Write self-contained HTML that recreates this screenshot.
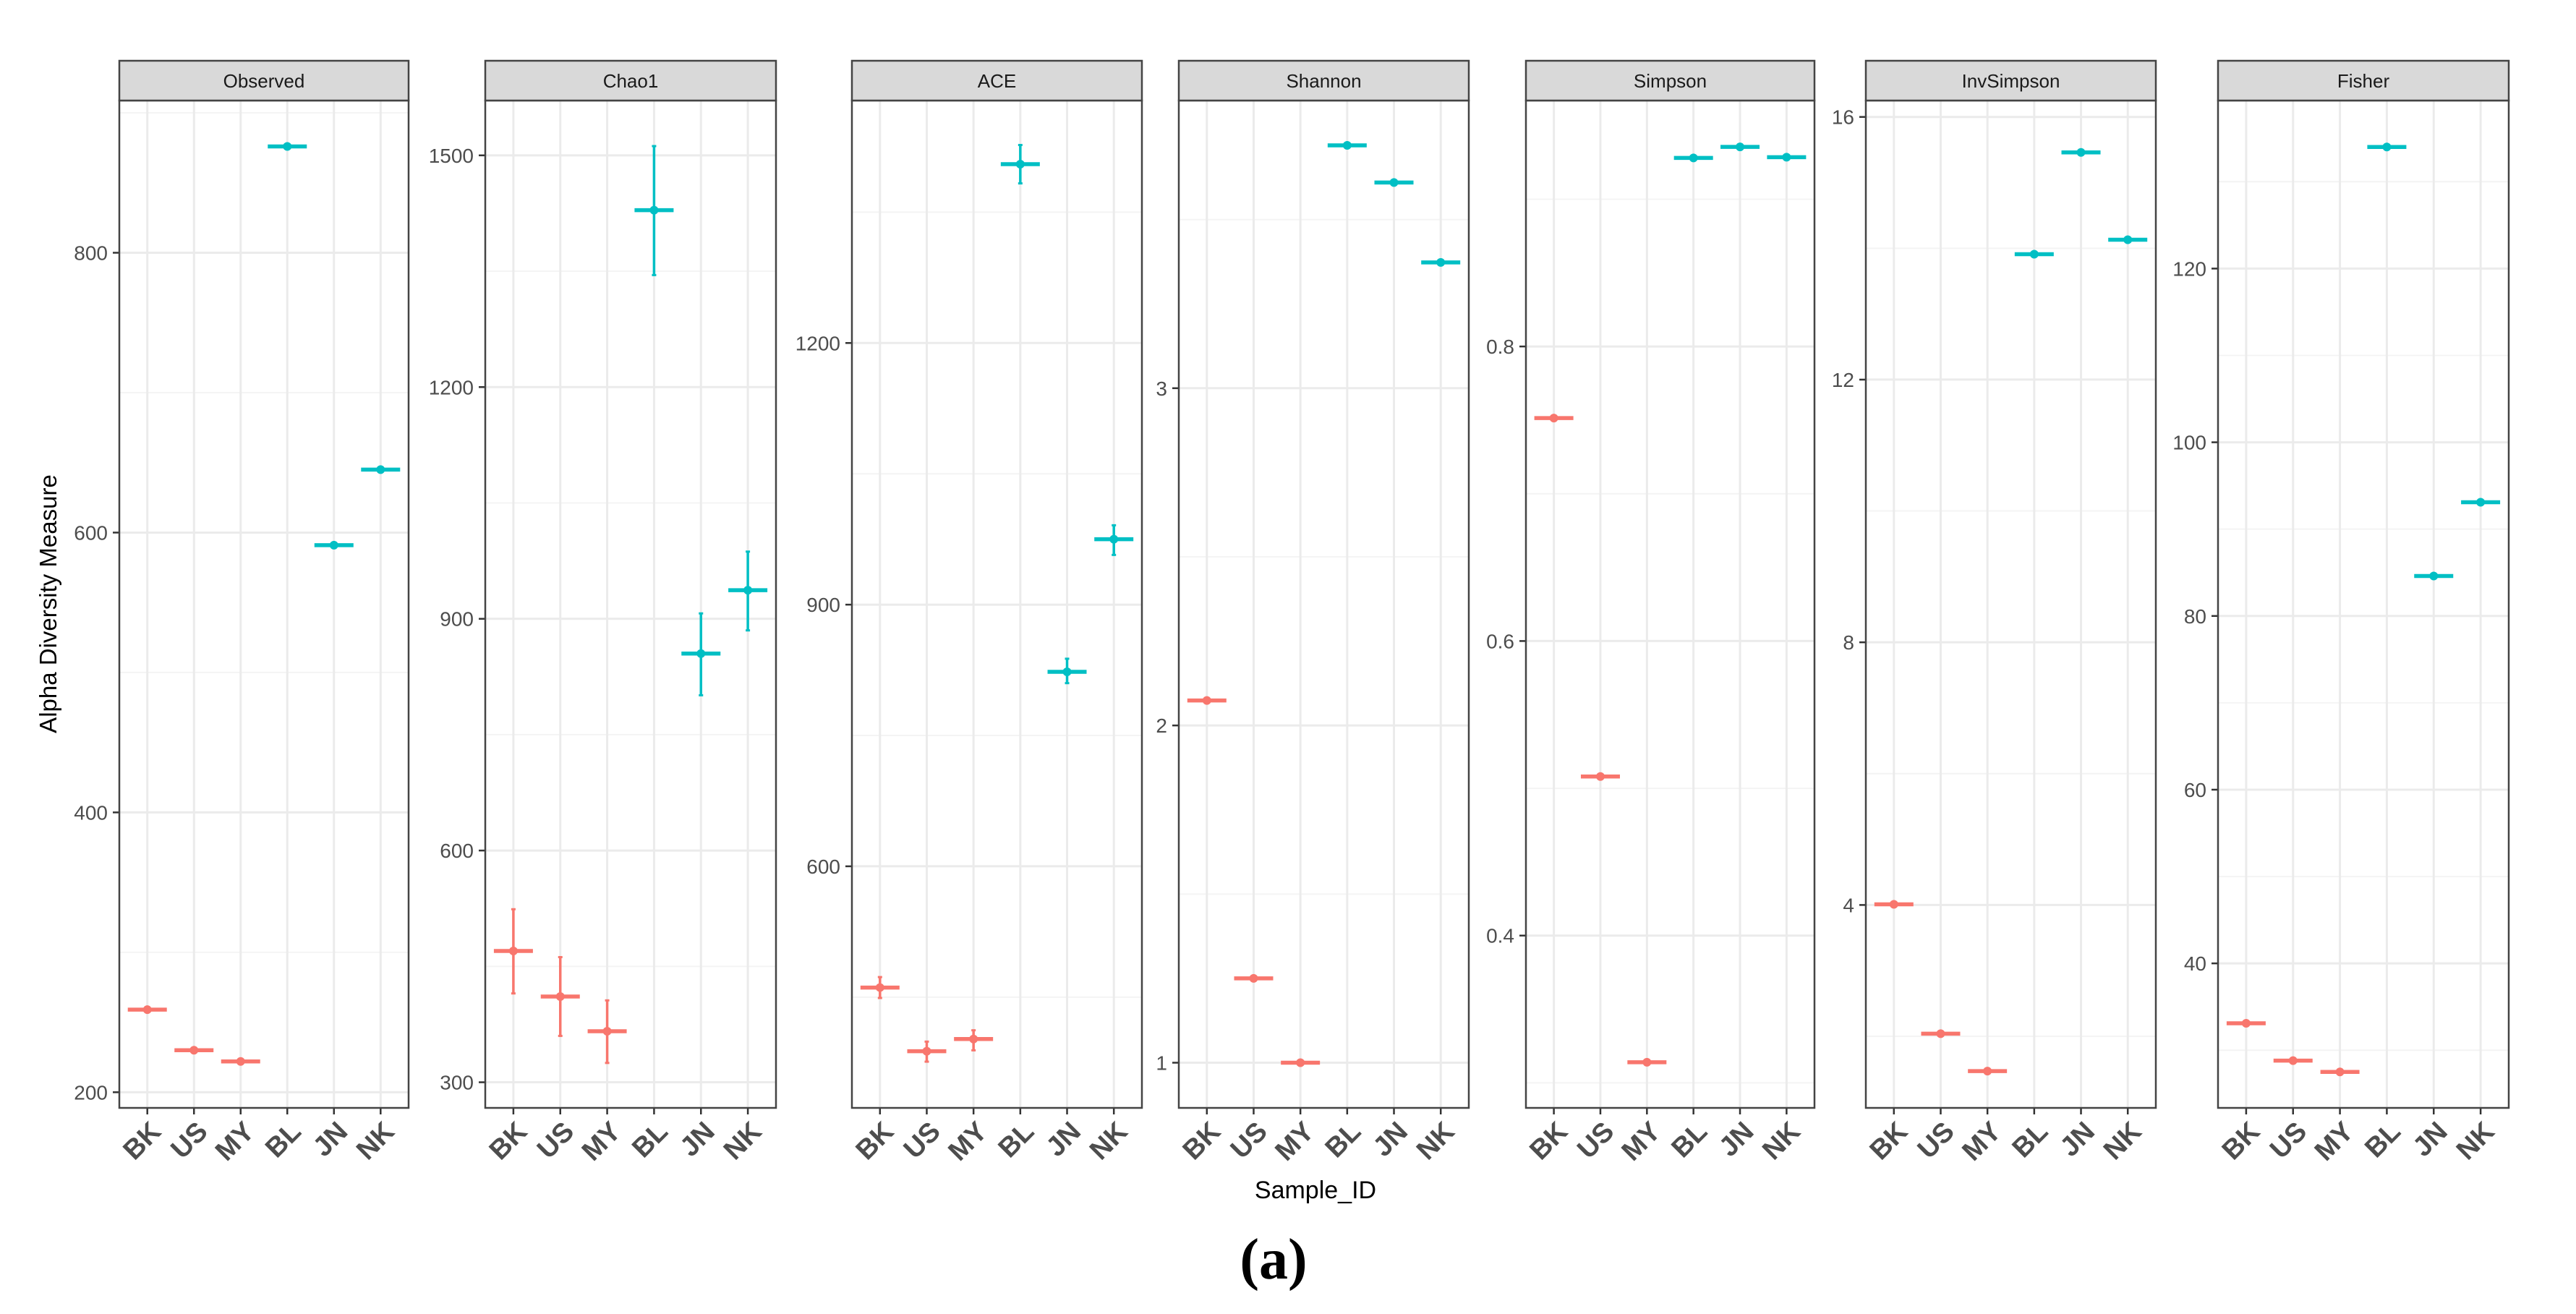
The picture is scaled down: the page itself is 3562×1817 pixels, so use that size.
<!DOCTYPE html>
<html><head><meta charset="utf-8"><style>
html,body{margin:0;padding:0;background:#fff;}
svg{display:block;font-family:"Liberation Sans",sans-serif;}
</style></head><body>
<svg id="chart" width="3562" height="1817" viewBox="0 0 3562 1817" xmlns="http://www.w3.org/2000/svg">
<text x="0" y="0" transform="translate(78,835) rotate(-90)" text-anchor="middle" font-size="33" fill="#000">Alpha Diversity Measure</text>
<text x="1819" y="1657" text-anchor="middle" font-size="34" fill="#000">Sample_ID</text>
<text x="1761" y="1768" text-anchor="middle" font-size="80" font-weight="bold" font-family="'Liberation Serif',serif" fill="#000">(a)</text>
</svg>
<script>
const categories = ["BK","US","MY","BL","JN","NK"];
const groups = ["A","A","A","B","B","B"];
const panelTitles = ["Observed","Chao1","ACE","Shannon","Simpson","InvSimpson","Fisher"];
const observedMean = [259,230,222,876,591,645];
const observedLo = [259,230,222,876,591,645];
const observedHi = [259,230,222,876,591,645];
const chao1Mean = [470,411,366,1429,855,937];
const chao1Lo = [415,360,325,1345,801,885];
const chao1Hi = [524,462,406,1512,907,987];
const aceMean = [461,388,402,1405,823,975];
const aceLo = [449,376,389,1383,810,957];
const aceHi = [473,399,412,1427,838,991];
const shannonMean = [2.074,1.25,1.0,3.72,3.61,3.373];
const simpsonMean = [0.7514,0.508,0.314,0.928,0.9355,0.9285];
const invSimpsonMean = [4.01,2.04,1.47,13.91,15.46,14.13];
const fisherMean = [33.1,28.8,27.5,134.0,84.6,93.1];
const observedTicks = [200,400,600,800];
const chao1Ticks = [300,600,900,1200,1500];
const aceTicks = [600,900,1200];
const shannonTicks = [1,2,3];
const simpsonTicks = [0.4,0.6,0.8];
const invSimpsonTicks = [4,8,12,16];
const fisherTicks = [40,60,80,100,120];
const observedDomain = [188.8,908.8];
const chao1Domain = [266.8,1571];
const aceDomain = [323,1478];
const shannonDomain = [0.866,3.853];
const simpsonDomain = [0.283,0.967];
const invSimpsonDomain = [0.91,16.25];
const fisherDomain = [23.36,139.35];

const panels = [
 {mean:observedMean,lo:observedLo,hi:observedHi,ticks:observedTicks,dom:observedDomain,x0:165,x1:565},
 {mean:chao1Mean,lo:chao1Lo,hi:chao1Hi,ticks:chao1Ticks,dom:chao1Domain,x0:671,x1:1073},
 {mean:aceMean,lo:aceLo,hi:aceHi,ticks:aceTicks,dom:aceDomain,x0:1178,x1:1579},
 {mean:shannonMean,lo:shannonMean,hi:shannonMean,ticks:shannonTicks,dom:shannonDomain,x0:1630,x1:2031},
 {mean:simpsonMean,lo:simpsonMean,hi:simpsonMean,ticks:simpsonTicks,dom:simpsonDomain,x0:2110,x1:2509},
 {mean:invSimpsonMean,lo:invSimpsonMean,hi:invSimpsonMean,ticks:invSimpsonTicks,dom:invSimpsonDomain,x0:2580,x1:2981},
 {mean:fisherMean,lo:fisherMean,hi:fisherMean,ticks:fisherTicks,dom:fisherDomain,x0:3067,x1:3469}
];
const NS="http://www.w3.org/2000/svg";
const svg=document.getElementById('chart');
const TOP=139,BOT=1532,STRIP=84;
const colors={A:"#F8766D",B:"#00BFC4"};
function mk(tag,attrs,parent){const e=document.createElementNS(NS,tag);for(const k in attrs)e.setAttribute(k,attrs[k]);(parent||svg).appendChild(e);return e;}
function fmt(v){return String(Math.round(v*100)/100);}
panels.forEach((p,pi)=>{
 const g=mk('g',{});
 
 
 const n=categories.length;
 const xs=i=>p.x0+(p.x1-p.x0)*((i+1)-0.4)/(n+0.2);
 const ys=v=>BOT-(v-p.dom[0])/(p.dom[1]-p.dom[0])*(BOT-TOP);
 const step=p.ticks.length>1?p.ticks[1]-p.ticks[0]:1;
 for(let t=p.ticks[0]-step*0.5;t<=p.dom[1];t+=step){
  if(t<p.dom[0])continue;
  const l=mk('line',{x1:p.x0,x2:p.x1,y1:ys(t),y2:ys(t),stroke:"#F4F4F4","stroke-width":2},g);
  
  
 }
 p.ticks.forEach(t=>{
  const y=ys(t);
  const l=mk('line',{x1:p.x0,x2:p.x1,y1:y,y2:y,stroke:"#EBEBEB","stroke-width":3},g);
  
  
  const tk=mk('line',{x1:p.x0-9,x2:p.x0,y1:y,y2:y,stroke:"#333","stroke-width":2.5},g);
  
  
  const tx=mk('text',{x:p.x0-16,y:y+10,"text-anchor":"end","font-size":28,fill:"#4D4D4D"},g);
  tx.textContent=fmt(t);
  
  
 });
 categories.forEach((c,i)=>{
  const x=xs(i);
  const l=mk('line',{x1:x,x2:x,y1:TOP,y2:BOT,stroke:"#EBEBEB","stroke-width":3},g);
  
  
  const tk=mk('line',{x1:x,x2:x,y1:BOT,y2:BOT+9,stroke:"#333","stroke-width":2.5},g);
  
  
  const tx=mk('text',{x:0,y:0,transform:`translate(${x+21},${BOT+35}) rotate(-45)`,"text-anchor":"end","font-size":38,"font-weight":"bold",fill:"#4D4D4D"},g);
  tx.textContent=c;
  
  
 });
 categories.forEach((c,i)=>{
  const x=xs(i),col=colors[groups[i]];
  const m=mk('g',{},g);
  
  
  mk('line',{x1:x,x2:x,y1:ys(p.lo[i]),y2:ys(p.hi[i]),stroke:col,"stroke-width":3.5},m);
  mk('line',{x1:x-3,x2:x+3,y1:ys(p.lo[i]),y2:ys(p.lo[i]),stroke:col,"stroke-width":3},m);
  mk('line',{x1:x-3,x2:x+3,y1:ys(p.hi[i]),y2:ys(p.hi[i]),stroke:col,"stroke-width":3},m);
  mk('line',{x1:x-27,x2:x+27,y1:ys(p.mean[i]),y2:ys(p.mean[i]),stroke:col,"stroke-width":5.5},m);
  mk('circle',{cx:x,cy:ys(p.mean[i]),r:6,fill:col},m);
 });
 const b=mk('rect',{x:p.x0,y:TOP,width:p.x1-p.x0,height:BOT-TOP,fill:"none",stroke:"#444","stroke-width":2.5},g);
 
 
 const s=mk('rect',{x:p.x0,y:STRIP,width:p.x1-p.x0,height:TOP-STRIP,fill:"#D9D9D9",stroke:"#444","stroke-width":2.5},g);
 
 
 const st=mk('text',{x:(p.x0+p.x1)/2,y:121,"text-anchor":"middle","font-size":26,fill:"#1A1A1A"},g);
 st.textContent=panelTitles[pi];
 
 
});
</script>
</body></html>
